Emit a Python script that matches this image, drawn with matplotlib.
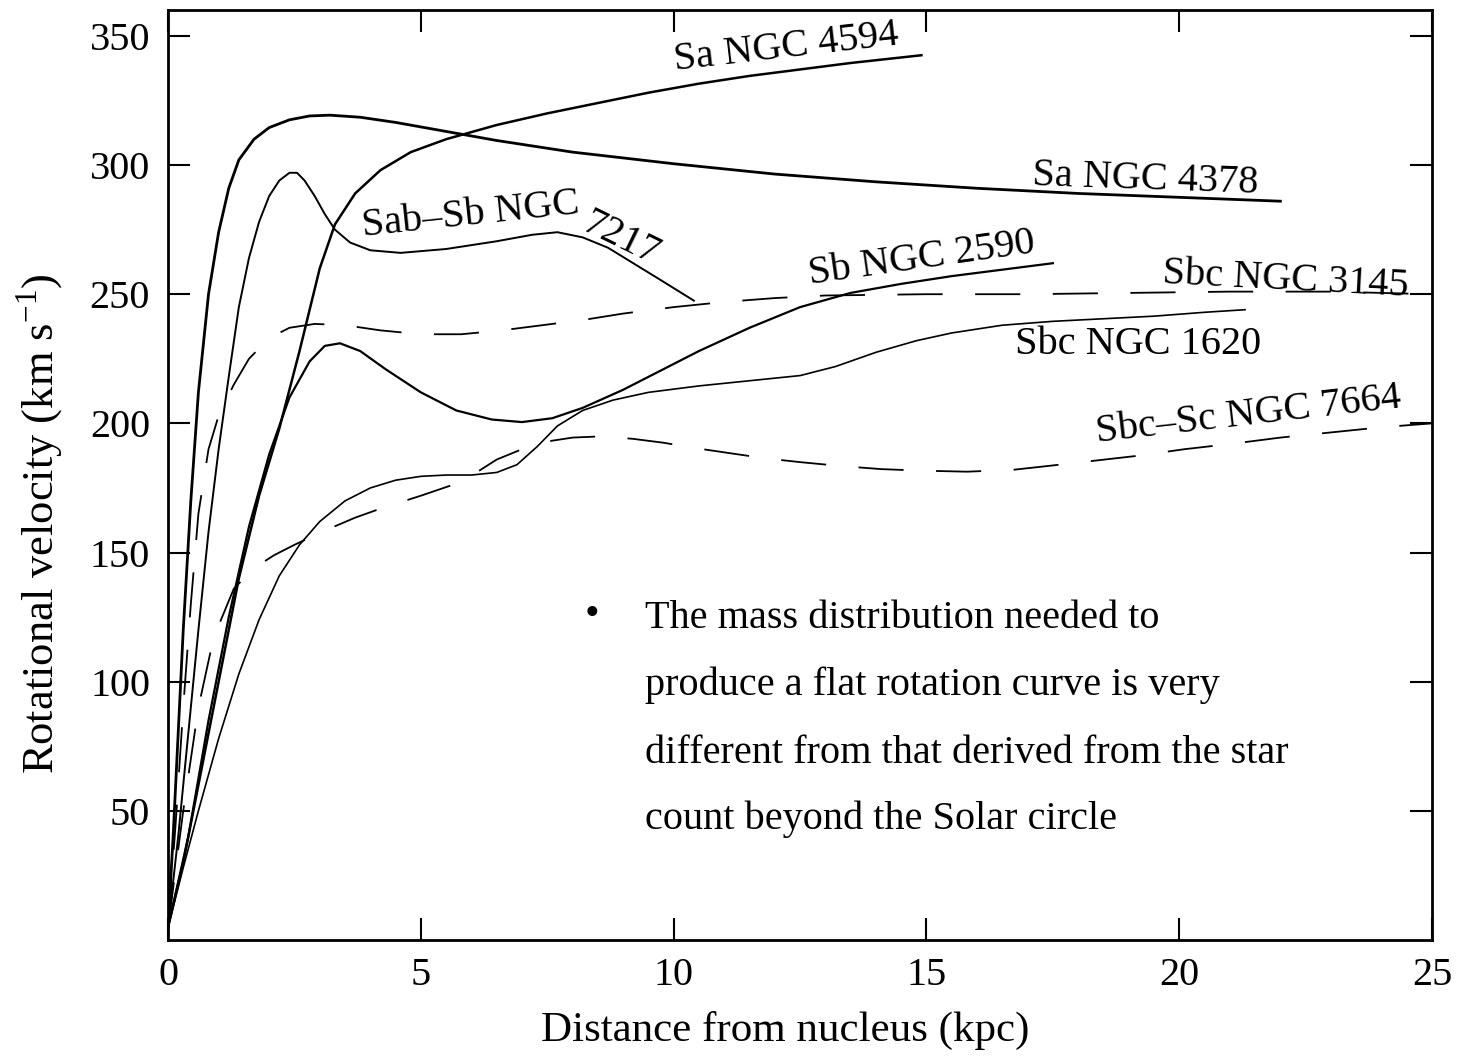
import matplotlib
matplotlib.use('Agg')
import matplotlib.pyplot as plt

# rotation curves (kpc, km/s)
r_4378 = [0, 0.1, 0.2, 0.3, 0.45, 0.6, 0.8, 1.0, 1.2, 1.4, 1.7, 2.0, 2.4, 2.8, 3.2, 3.8, 4.5,
          5.5, 6.5, 8, 10, 12, 14, 16, 18, 20, 22]
v_4378 = [5, 40, 80, 120, 170, 212, 250, 274, 291, 302, 310, 314.5, 317.5, 319, 319.3, 318.5,
          316.5, 313, 309.5, 305, 300.5, 296.5, 293.5, 291, 289, 287.5, 286]

r_4594 = [0, 0.3, 0.6, 1.0, 1.4, 1.8, 2.2, 2.6, 3.0, 3.3, 3.7, 4.2, 4.8, 5.5, 6.5, 7.5, 8.5,
          9.5, 10.5, 11.5, 12.5, 13.5, 14.9]
v_4594 = [5, 30, 60, 100, 140, 172, 198, 228, 260, 277, 289, 298, 305, 310, 315.5, 320, 324,
          328, 331.5, 334.5, 337, 339.5, 342.5]

r_7217 = [0, 0.2, 0.4, 0.6, 0.8, 1.0, 1.2, 1.4, 1.6, 1.8, 2.0, 2.2, 2.4, 2.55, 2.7, 2.9, 3.1,
          3.3, 3.6, 4.0, 4.6, 5.5, 6.5, 7.2, 7.7, 8.2, 8.7, 9.2, 9.7, 10.4]
v_7217 = [5, 40, 80, 120, 158, 190, 218, 245, 264, 278, 288, 294, 297, 297, 294, 288, 281,
          275, 270, 267, 266, 267.5, 270.5, 273, 274, 272, 268, 262, 256, 247.5]

r_2590 = [0, 0.4, 0.8, 1.2, 1.6, 2.0, 2.4, 2.8, 3.1, 3.4, 3.8, 4.3, 5.0, 5.7, 6.4, 7.0, 7.6,
          8.2, 9.0, 9.8, 10.5, 11.5, 12.5, 13.5, 14.5, 15.5, 16.5, 17.5]
v_2590 = [5, 40, 85, 125, 160, 188, 210, 224, 230, 231, 228, 221, 212, 205, 201.5, 200.5, 202,
          206, 213, 221, 228, 237, 245, 250.5, 254, 257, 259.5, 262]

r_1620 = [0, 0.3, 0.6, 1.0, 1.4, 1.8, 2.2, 2.6, 3.0, 3.5, 4.0, 4.5, 5.0, 5.5, 6.0, 6.5, 6.9,
          7.3, 7.7, 8.2, 8.8, 9.5, 10.5, 11.5, 12.5, 13.2, 14.0, 14.8, 15.5, 16.5, 17.5, 18.5,
          19.5, 20.5, 21.3]
v_1620 = [5, 28, 50, 78, 103, 124, 141, 153, 162, 170, 175, 178, 179.5, 180, 180, 181, 184,
          191, 199, 205, 209, 212, 214.5, 216.5, 218.5, 222, 227.5, 232, 235, 238, 239.5, 240.5,
          241.5, 243, 244]

r_3145 = [0, 0.15, 0.3, 0.45, 0.6, 0.8, 1.0, 1.3, 1.6, 2.0, 2.4, 2.9, 3.5, 4.2, 5.0, 5.8, 6.6,
          7.4, 8.2, 9.0, 10.0, 11.0, 12.0, 13.0, 15, 17, 19, 21, 23, 25]
v_3145 = [5, 45, 90, 130, 165, 190, 203, 215, 225, 233, 237, 238.5, 238, 236, 234.5, 234.5, 236,
          238, 240, 242.5, 245, 247, 248.5, 249.5, 250, 250, 250.5, 251, 251, 250]

r_7664 = [0, 0.3, 0.6, 0.9, 1.3, 1.7, 2.1, 2.5, 3.1, 3.7, 4.2, 5.0, 5.6, 6.1, 6.5, 7.0, 7.5,
          8.0, 8.6, 9.2, 9.8, 10.4, 11.1, 11.8, 12.5, 13.3, 14.1, 14.9, 15.8, 16.7, 17.4, 18.3,
          19.2, 20.1, 21.0, 22.0, 23.0, 24.0, 25]
v_7664 = [5, 50, 90, 117, 136, 144, 149, 153, 158.5, 163.5, 167, 172, 176, 181, 186, 190, 193,
          194.5, 195, 194, 192.5, 190.5, 188.5, 186.5, 185, 183.5, 182.3, 181.7, 181.3, 182,
          183.5, 185.5, 187.5, 190, 192, 194.5, 196.5, 198.5, 200]

x_ticks = [0, 5, 10, 15, 20, 25]
y_ticks = [50, 100, 150, 200, 250, 300, 350]

note_lines = ['The mass distribution needed to',
              'produce a flat rotation curve is very',
              'different from that derived from the star',
              'count beyond the Solar circle']
note_y = [120.9, 95.0, 68.6, 43.0]

plt.rcParams['font.family'] = ['Liberation Serif', 'DejaVu Serif']
plt.rcParams['mathtext.fontset'] = 'custom'
plt.rcParams['mathtext.rm'] = 'Liberation Serif'

fig = plt.figure(figsize=(14.64, 10.56), dpi=100)
ax = fig.add_axes([0.1148, 0.1098, 0.8634, 0.8807])

dash = (0, (25, 18))
ax.plot(r_4378, v_4378, color='black', lw=2.0)
ax.plot(r_4594, v_4594, color='black', lw=1.8)
ax.plot(r_7217, v_7217, color='black', lw=1.4)
ax.plot(r_2590, v_2590, color='black', lw=1.6)
ax.plot(r_1620, v_1620, color='black', lw=1.2)
ax.plot(r_3145, v_3145, color='black', lw=1.3, linestyle=dash)
ax.plot(r_7664, v_7664, color='black', lw=1.3, linestyle=dash)

lab = dict(fontsize=29, color='black', ha='left', va='baseline', rotation_mode='anchor')
ax.text(10.03, 336.8, 'Sa NGC 4594', rotation=6.5, **lab)
ax.text(17.09, 292.2, 'Sa NGC 4378', rotation=-2, **lab)
ax.text(3.85, 272.5, 'Sab\u2013Sb NGC', rotation=6, **lab)
ax.text(8.15, 275, '7217', rotation=-26, **lab)
ax.text(12.7, 253.9, 'Sb NGC 2590', rotation=8, **lab)
ax.text(19.66, 254.4, 'Sbc NGC 3145', rotation=-3, **lab)
ax.text(16.75, 226.7, 'Sbc NGC 1620', rotation=0, **lab)
ax.text(18.37, 192.6, 'Sbc\u2013Sc NGC 7664', rotation=6.5, **lab)

ax.text(8.39, 126, '\u2022', fontsize=30, ha='center', va='center')
for line, yy in zip(note_lines, note_y):
    ax.text(9.43, yy, line, fontsize=29, ha='left', va='baseline')

ax.set_xlim(0, 25)
ax.set_ylim(0, 360)
ax.set_xticks(x_ticks)
ax.set_yticks(y_ticks)
ax.tick_params(direction='in', length=16, width=1.5, labelsize=29, top=True, right=True)
ax.tick_params(axis='x', pad=12)
ax.tick_params(axis='y', pad=13)
for s in ax.spines.values():
    s.set_linewidth(2)
ax.set_xlabel('Distance from nucleus (kpc)', fontsize=31, va='center')
ax.set_ylabel('Rotational velocity (km s$^{-1}$)', fontsize=32, va='center')
ax.xaxis.set_label_coords(0.488, -0.097)
ax.yaxis.set_label_coords(-0.101, 0.448)

fig.savefig('out.png', dpi=100)
